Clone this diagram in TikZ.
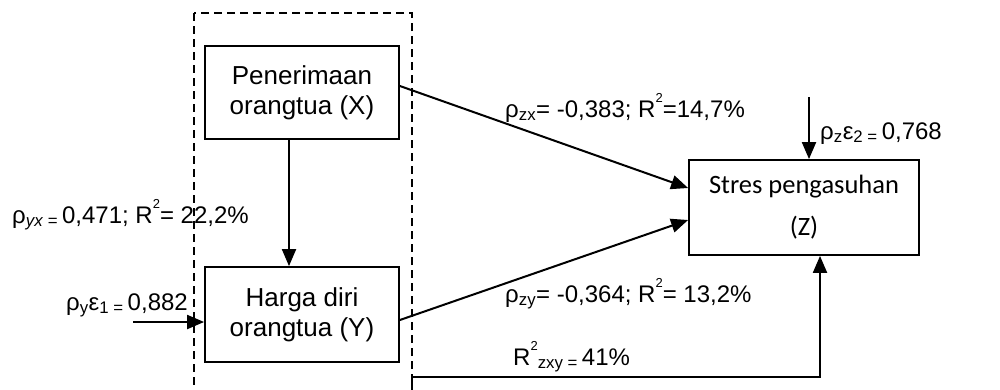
\documentclass[tikz,border=0pt]{standalone}
\usepackage{fontspec}
\setmainfont{Liberation Sans}
\newfontfamily\calibrifont{Carlito}
\usetikzlibrary{arrows.meta}
\newcommand{\sqtwo}{\raisebox{0.62em}{\fontsize{13}{13}\selectfont 2}}

\begin{document}
\begin{tikzpicture}[x=1pt, y=-1pt,
		varbox/.style={draw=black, line width=1.8pt, align=center, inner sep=0pt, font=\fontsize{26}{30}\selectfont},
		coef/.style={inner sep=0pt, font=\fontsize{24}{28}\selectfont},
		arr/.style={line width=2pt, -{Triangle[length=17pt, width=14pt]}}]
		\useasboundingbox (0,0) rectangle (1000,389);
		
		% dashed frame round the two predictors
		\draw [dashed, line width=1.6pt, dash pattern=on 8pt off 5pt] (194,13) rectangle (412,420);
		
		\node [varbox, minimum width=194pt, minimum height=93pt] (X) at (302,92.5) {Penerimaan\\orangtua (X)};
		\node [varbox, minimum width=194pt, minimum height=95pt] (Y) at (302,314.5) {Harga diri\\orangtua (Y)};
		\node [varbox, minimum width=230pt, minimum height=95pt, font=\calibrifont\fontsize{26.5}{42}\selectfont] (Z) at (804,207.5) {Stres pengasuhan\\(Z)};
		
		\coordinate (e1) at (133,322);
		\coordinate (e2) at (809,97);
		\coordinate (r2start) at (412,400);
		\coordinate (r2bend) at (820,377);
		
		\draw [arr] ([xshift=-13pt]X.south) -- ([xshift=-13pt]Y.north);
		\draw [arr] ([yshift=6.5pt]X.east) -- ([yshift=19.5pt]Z.west);
		\draw [arr] ([yshift=-5.5pt]Y.east) -- ([yshift=-12.5pt]Z.west);
		\draw [arr] (e1) -- ([yshift=-7.5pt]Y.west);
		\draw [arr] (e2) -- ([xshift=5pt]Z.north);
		\draw [arr] (r2start) |- (r2bend) -- ([xshift=16pt]Z.south);
		
		\node [coef, anchor=base west] (lyx) at (12,223) {ρ\textsubscript{\textit{yx} =}\,0,471; R\sqtwo= 22,2\%};
		\node [coef, anchor=base east] (le1) at (188,310) {ρ\textsubscript{y}ε\textsubscript{1 =}\,0,882};
		\node [coef, anchor=base west] (lzx) at (505,117) {ρ\textsubscript{zx}= -0,383; R\sqtwo=14,7\%};
		\node [coef, anchor=base west] (le2) at (820,139) {ρ\textsubscript{z}ε\textsubscript{2 =}\,0,768};
		\node [coef, anchor=base west] (lzy) at (505,302) {ρ\textsubscript{zy}= -0,364; R\sqtwo= 13,2\%};
		\node [coef, anchor=base west] (lzxy) at (513,365) {R\sqtwo\textsubscript{zxy =}\,41\%};
	\end{tikzpicture}
\end{document}
